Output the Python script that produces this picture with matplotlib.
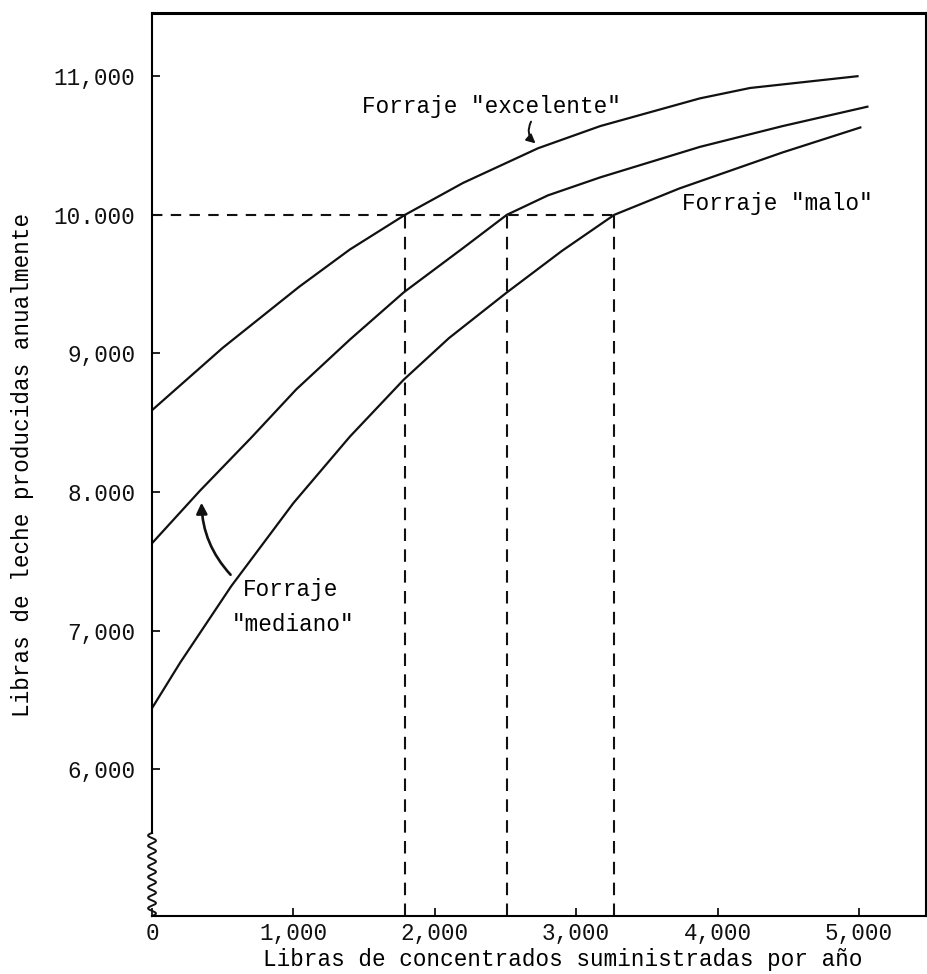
import numpy as np
import matplotlib
matplotlib.use("Agg")
from matplotlib import pyplot as plt

plt.rcParams['font.family'] = ['Liberation Mono', 'DejaVu Sans Mono']

# curvas (lb de concentrado, lb de leche)
exc_x = [0, 500, 1040, 1400, 1790, 2200, 2730, 3170, 3875, 4230, 4990]
exc_y = [8590, 9040, 9480, 9750, 10000, 10230, 10480, 10640, 10840, 10915, 11000]
med_x = [0, 340, 700, 1020, 1400, 1780, 2200, 2510, 2800, 3170, 3875, 4460, 5060]
med_y = [7630, 8010, 8390, 8740, 9100, 9440, 9760, 10000, 10140, 10270, 10490, 10640, 10780]
malo_x = [0, 200, 560, 1000, 1400, 1780, 2100, 2510, 2900, 3270, 3730, 4460, 5010]
malo_y = [6440, 6770, 7320, 7920, 8400, 8810, 9110, 9440, 9740, 10000, 10190, 10450, 10630]

meta = 10000
cortes = [1790, 2510, 3270]

yticks = [6000, 7000, 8000, 9000, 10000, 11000]
ylabels = ['6,000', '7,000', '8.000', '9,000', '10.000', '11,000']
xticks = [0, 1000, 2000, 3000, 4000, 5000]
xlabels = ['0', '1,000', '2,000', '3,000', '4,000', '5,000']

fs = 16.3
ymin, ymax = 4940, 11455
xmin, xmax = 0, 5475

fig = plt.figure(figsize=(9.27, 9.74), dpi=100)
ax = fig.add_axes([0.164, 0.0595, 0.835, 0.927])

for xs, ys in [(exc_x, exc_y), (med_x, med_y), (malo_x, malo_y)]:
    ax.plot(xs, ys, color='#111111', lw=1.6, solid_joinstyle='round')

# lineas de corte a 10,000 lb
ax.plot([0, cortes[-1]], [meta, meta], color='#111111', lw=1.5, ls=(0, (5, 4)))
for c in cortes:
    ax.plot([c, c], [ymin, meta], color='#111111', lw=1.5, ls=(0, (6, 4)))

ax.text(1482, 10778, 'Forraje "excelente"', fontsize=fs, ha='left', va='center')
ax.text(3747, 10084, 'Forraje "malo"', fontsize=fs, ha='left', va='center')
ax.text(640, 7294, 'Forraje', fontsize=fs, ha='left', va='center')
ax.text(562, 7041, '"mediano"', fontsize=fs, ha='left', va='center')

ax.annotate('', xy=(2728, 10503), xytext=(2690, 10690),
            arrowprops=dict(arrowstyle='-|>', connectionstyle='arc3,rad=0.45',
                            color='#111111', lw=1.4, mutation_scale=13))
ax.annotate('', xy=(350, 7943), xytext=(569, 7388),
            arrowprops=dict(arrowstyle='-|>', connectionstyle='arc3,rad=-0.2',
                            color='#111111', lw=1.9, mutation_scale=16))

# corte del eje y
brk = 5540
t = np.linspace(0, 1, 300)
ax.plot(28 * np.sin(2 * np.pi * 8 * t), ymin + t * (brk - ymin),
        color='#111111', lw=1.4, clip_on=False)

ax.set_xlim(xmin, xmax)
ax.set_ylim(ymin, ymax)
ax.set_xticks(xticks)
ax.set_xticklabels(xlabels)
ax.set_yticks(yticks)
ax.set_yticklabels(ylabels)
ax.tick_params(direction='in', length=6, width=1.3, labelsize=fs, colors='#111111')
ax.tick_params(axis='y', pad=12)
ax.tick_params(axis='x', pad=4)

ax.spines['left'].set_bounds(brk, ymax)
for s in ['left', 'bottom', 'right']:
    ax.spines[s].set_linewidth(1.5)
ax.spines['top'].set_linewidth(2.2)

ax.set_xlabel('Libras de concentrados suministradas por año', fontsize=fs, labelpad=0)
ax.xaxis.set_label_coords(0.53, -0.0355)
ax.set_ylabel('Libras de leche producidas anualmente', fontsize=fs)
ax.yaxis.set_label_coords(-0.152, 0.5)

fig.savefig('out.png', dpi=100, facecolor='white')
